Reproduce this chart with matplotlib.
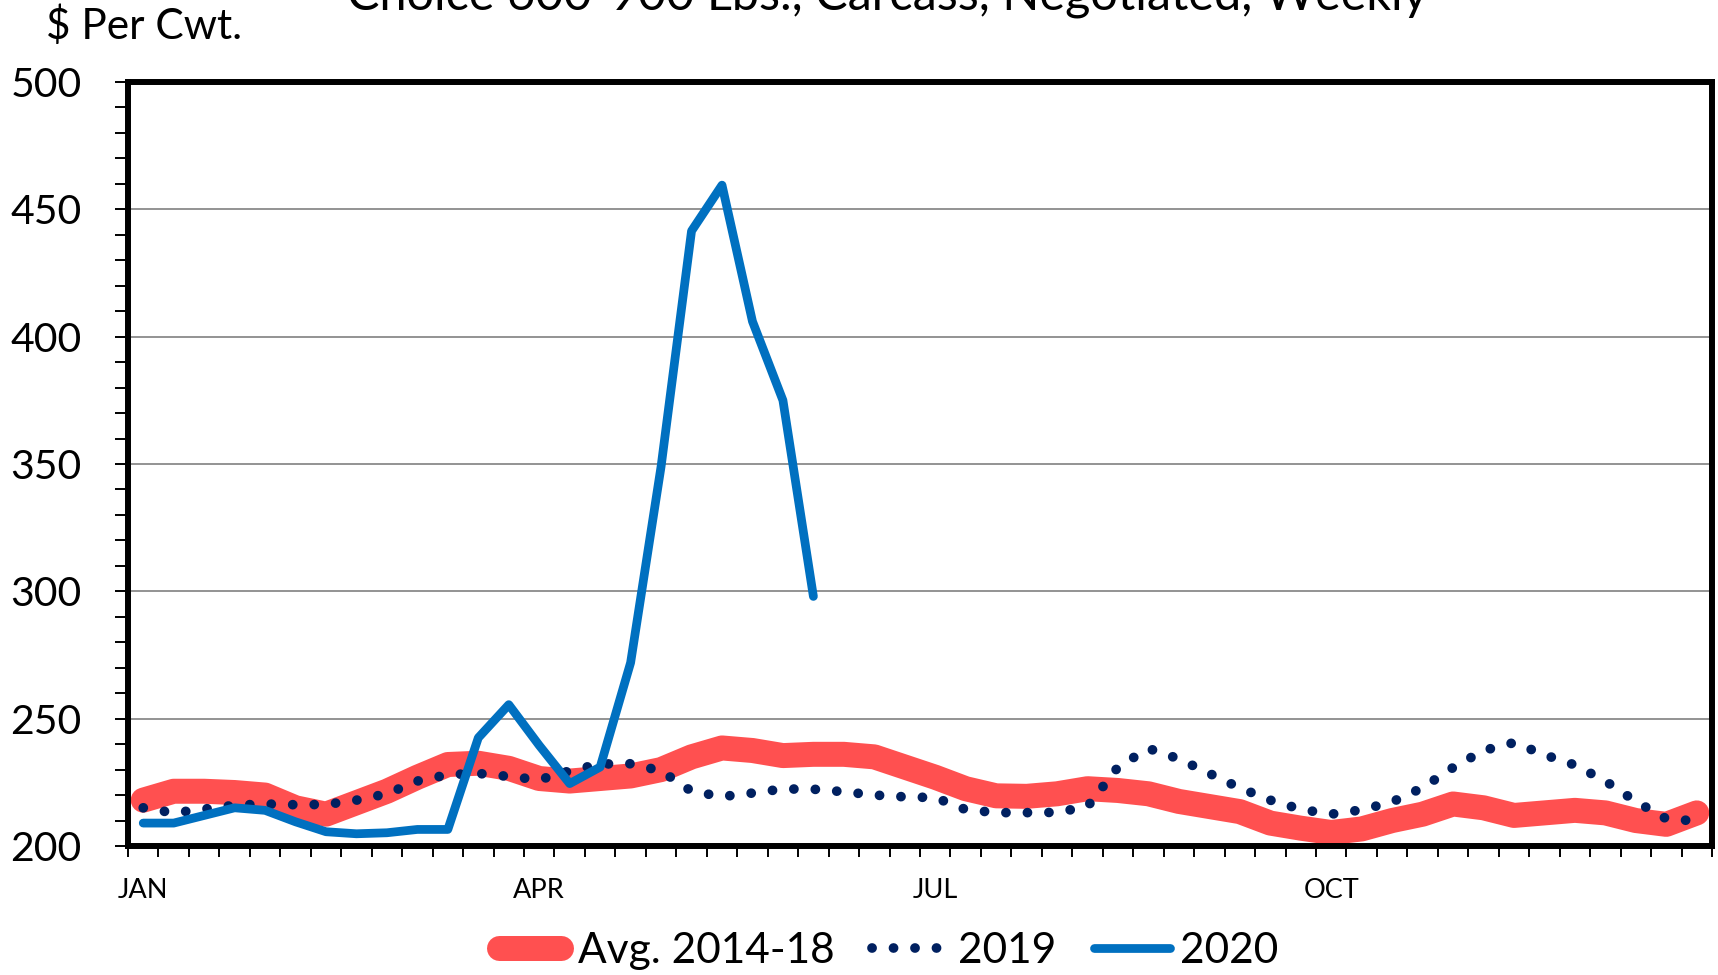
import matplotlib
matplotlib.use("Agg")
import matplotlib.pyplot as plt
import numpy as np
from matplotlib.ticker import MultipleLocator, FixedLocator

plt.rcParams['font.family'] = ['Lato', 'DejaVu Sans']

title = "Choice 600-900 Lbs., Carcass, Negotiated, Weekly"
ylabel = "$ Per Cwt."
month_labels = ["JAN", "APR", "JUL", "OCT"]
month_weeks = [0, 13, 26, 39]

avg_2014_18 = [218, 221.5, 221.5, 221, 220, 215, 212.5, 217, 221.5, 227,
               232, 232.5, 230.5, 226.5, 225.5, 226.5, 227.5, 230, 235, 238.5,
               237.5, 235.5, 236, 236, 235, 231, 227, 222.5, 219.7, 219.5,
               220.5, 222.5, 221.8, 220.5, 217.5, 215.5, 213.5, 209, 207, 205.3,
               206.7, 210, 212.5, 216.5, 215, 212, 213, 214, 213, 210,
               208.5, 213]
y2019 = [215, 213, 214.5, 216, 216.5, 216.2, 216.3, 218, 220.5, 225.5,
         228, 228.5, 227.3, 226, 229.5, 232.2, 232.3, 229.5, 221.5, 219.4,
         220.8, 222.4, 222.3, 221.3, 220, 219.3, 219, 214.3, 213.1, 213.1,
         213.2, 215.5, 231, 238.3, 234.2, 228.5, 222.8, 218, 214.4, 212.5,
         214.2, 217.3, 222.9, 230.8, 237.5, 240.6, 235.8, 231.8, 225.5, 217.5,
         210.7, 209.8]
y2020 = [209, 209, 212, 215, 214, 209.5, 205.6, 204.8, 205.2, 206.5,
         206.5, 242.5, 255.5, 239.5, 224.5, 231, 272, 349, 441.5, 459.5,
         406, 375, 298]

W, H = 1718, 975
fig = plt.figure(figsize=(W / 100, H / 100), dpi=100)
ax = fig.add_axes([128 / W, 1 - 846 / H, (1712 - 128) / W, (846 - 82) / H])

weeks = np.arange(len(avg_2014_18))
RED_LW = 18
ax.plot(weeks, avg_2014_18, color='#FF5050', lw=RED_LW, solid_capstyle='round',
        solid_joinstyle='round', zorder=2, label='Avg. 2014-18')
ax.plot(weeks[:len(y2019)], y2019, color='#002060', lw=7,
        linestyle=(0, (0.01, 2.2)), dash_capstyle='round', zorder=3, label='2019')
ax.plot(weeks[:len(y2020)], y2020, color='#0070C0', lw=6.3, solid_capstyle='round',
        solid_joinstyle='round', zorder=4, label='2020')

ax.set_xlim(-0.5, len(avg_2014_18) - 0.5)
ax.set_ylim(200, 500)

ax.yaxis.set_major_locator(MultipleLocator(50))
ax.yaxis.set_minor_locator(MultipleLocator(10))
ax.yaxis.grid(True, which='major', color='#8a8a8a', lw=1.3, zorder=1)
ax.set_axisbelow(True)

ax.set_xticks(month_weeks)
ax.set_xticklabels(month_labels)
ax.xaxis.set_minor_locator(FixedLocator(np.arange(-0.5, len(avg_2014_18), 1.0)))

ax.tick_params(axis='y', which='major', direction='out', length=9.5, width=1.4,
               labelsize=29.5, pad=24)
ax.tick_params(axis='y', which='minor', direction='out', length=9.5, width=1.4)
ax.tick_params(axis='x', which='major', length=0, labelsize=19.5, pad=23)
ax.tick_params(axis='x', which='minor', direction='out', length=8, width=1.4)

for s in ax.spines.values():
    s.set_linewidth(4.3)
    s.set_color('black')
    s.set_zorder(5)

fig.text(887 / W, 1 - 10 / H, title, ha='center', va='baseline', fontsize=35)
fig.text(46 / W, 1 - 39 / H, ylabel, ha='left', va='baseline', fontsize=30.5)

leg = fig.legend(loc='center', bbox_to_anchor=(885 / W, 1 - 951 / H), ncol=3,
                 frameon=False, fontsize=30.5, handlelength=1.8, handletextpad=0.22,
                 columnspacing=0.9, borderaxespad=0)
red_handle = leg.get_lines()[0]
xd = np.asarray(red_handle.get_xdata(), dtype=float)
cap = RED_LW / 2.0 * 0.6
xd_new = xd.copy()
xd_new[0] = xd[0] + cap
xd_new[-1] = xd[-1] - cap
red_handle.set_xdata(xd_new)

fig.savefig('out.png', dpi=100)
